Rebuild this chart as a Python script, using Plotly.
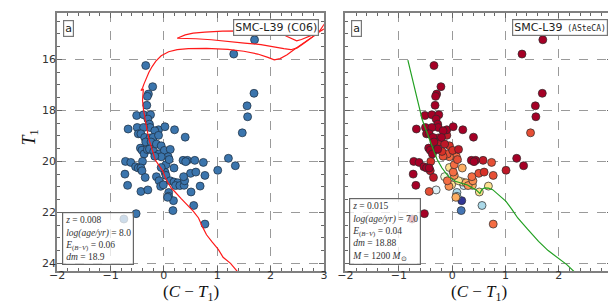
import plotly.graph_objects as go

# ---- observed stars (same CMD in both panels) ----
ct1 = [1.70, 1.31, -0.34, -0.21, -0.29, -0.31, -0.32, 1.69, 1.56, 1.57,
       1.47, -0.51, -0.38, -0.25, -0.30, -0.27, -0.26, -0.67, -0.50, -0.38,
       -0.48, -0.43, -0.10, -0.17, 0.02, 0.20, 0.40, -0.36, -0.26, -0.20,
       -0.10, -0.34, -0.24, -0.14, -0.05, -0.44, -0.41, -0.37, -0.31, -0.27,
       -0.19, -0.09, 0.01, 0.12, 0.08, -0.05, -0.17, -0.72, -0.62, -0.40,
       -0.53, -0.48, -0.43, -0.41, -0.73, -0.35, -0.68, -0.43, -0.30, -0.14,
       -0.09, 0.02, 0.04, 0.10, 0.19, -0.05, -0.06, -0.01, 0.04, 0.12,
       0.19, 0.26, 0.22, 0.30, 0.38, 0.36, 0.44, 0.41, 0.58, 0.74,
       0.50, 0.60, 0.39, 0.37, 0.77, 0.68, 0.51, 1.01, 1.21, 1.34,
       0.09, 0.09, 0.18, 0.07, 0.17, 0.56, 0.77, -0.52, -0.75]
t1 = [15.23, 15.79, 16.24, 17.07, 17.36, 17.45, 17.80, 17.33, 17.82, 18.25,
      18.88, 18.20, 18.17, 18.17, 18.34, 18.54, 18.67, 18.73, 18.67, 18.67,
      18.92, 18.92, 18.76, 18.80, 18.64, 18.76, 19.05, 19.06, 19.08, 19.06,
      18.98, 19.24, 19.24, 19.32, 19.39, 19.48, 19.56, 19.71, 19.54, 19.52,
      19.61, 19.71, 19.57, 19.53, 19.82, 19.82, 19.80, 20.00, 20.04, 20.00,
      20.21, 20.26, 20.26, 20.37, 20.50, 20.63, 20.94, 21.18, 21.12, 20.60,
      20.76, 20.42, 20.13, 19.93, 20.26, 20.24, 20.98, 20.92, 20.55, 20.76,
      20.81, 20.84, 20.95, 20.95, 20.94, 19.96, 19.96, 20.01, 19.96, 20.04,
      20.47, 20.42, 20.76, 20.60, 20.55, 20.97, 21.20, 20.35, 19.88, 20.17,
      21.22, 21.37, 21.54, 21.41, 21.93, 21.73, 22.46, 22.05, 22.26]
memb = [1, 1, 1, 1, 1, 1, 1, 1, 1, 1,
        0.85, 1, 1, 1, 1, 1, 1, 1, 1, 1,
        1, 1, 1, 1, 1, 1, 1, 1, 0.95, 1,
        0.95, 1, 0.95, 0.95, 0.9, 1, 1, 1, 0.95, 1,
        0.9, 0.85, 0.9, 0.95, 0.8, 0.8, 0.85, 1, 1, 0.9,
        1, 1, 1, 0.95, 1, 0.95, 1, 0.85, 0.4, 0.45,
        0.8, 0.8, 0.8, 0.85, 0.7, 0.6, 0.75, 0.6, 0.75, 0.6,
        0.55, 0.7, 0.35, 0.75, 0.7, 1, 1, 1, 0.95, 0.85,
        0.85, 0.9, 0.75, 0.8, 0.85, 0.6, 0.6, 0.95, 1, 1,
        0.3, 0.3, 0.0, 0.7, 0.1, 0.3, 0.8, 1, 1]

# ---- C06 isochrone (log age 8.0) ----
iso_c06_ct1 = [1.39, 1.25, 1.11, 1.02, 0.90, 0.80, 0.72, 0.65, 0.55, 0.43,
               0.32, 0.22, 0.14, 0.08, 0.03, -0.02, -0.09, -0.16, -0.21, -0.27,
               -0.31, -0.35, -0.38, -0.40, -0.39, -0.385, -0.43, -0.40, -0.37, -0.33,
               -0.28, -0.22, -0.15, -0.05, 0.09, 0.25, 0.46, 0.80, 1.20, 1.50,
               1.76, 1.95, 2.07, 2.18, 2.31, 2.45, 2.62, 2.78, 2.90, 3.06,
               None,
               2.90, 2.75, 2.62, 2.50, 2.38, 2.25, 2.13, 1.82, 1.51, 1.20,
               0.89, 0.60, 0.25, 0.40, 0.55, 0.77, 1.10, 1.51, 1.80, 2.07,
               2.22, 2.31, 2.42, 2.49, 2.58, 2.69, 2.80, 2.90, 3.05]
iso_c06_t1 = [24.35, 24.00, 23.76, 23.45, 23.15, 22.88, 22.55, 22.22, 21.95, 21.70,
              21.45, 21.22, 21.05, 20.85, 20.65, 20.38, 20.15, 19.95, 19.60, 19.20,
              18.82, 18.40, 18.00, 17.60, 17.30, 17.18, 17.22, 17.12, 16.95, 16.72,
              16.50, 16.28, 16.07, 15.86, 15.70, 15.62, 15.58, 15.57, 15.61, 15.68,
              15.79, 15.92, 16.02, 15.97, 15.82, 15.60, 15.36, 15.12, 14.95, 14.45,
              None,
              14.95, 15.20, 15.38, 15.55, 15.62, 15.58, 15.53, 15.42, 15.36, 15.29,
              15.23, 15.19, 15.17, 15.04, 14.97, 14.93, 14.89, 14.88, 14.89, 14.93,
              15.00, 15.10, 15.20, 15.27, 15.22, 15.14, 15.03, 14.93, 14.75]

# ---- ASteCA isochrone (log age 7.0) ----
iso_ast_ct1 = [-0.83, -0.79, -0.75, -0.70, -0.65, -0.60, -0.56, -0.51, -0.47, -0.42,
               -0.38, -0.33, -0.28, -0.19, -0.07, 0.06, 0.18, 0.28, 0.36, 0.45,
               0.52, 0.53, 0.56, 0.61, 0.68, 0.76, 0.85, 1.01, 1.12, 1.23,
               1.41, 1.62, 1.80, 1.99, 2.15, 2.30]
iso_ast_t1 = [16.03, 16.38, 16.73, 17.12, 17.52, 17.95, 18.37, 18.65, 18.89, 19.15,
              19.41, 19.67, 19.93, 20.26, 20.59, 20.78, 20.86, 20.92, 21.02, 21.12,
              21.26, 21.20, 21.09, 21.04, 21.05, 21.11, 21.28, 21.57, 21.88, 22.22,
              22.65, 23.14, 23.50, 23.79, 24.05, 24.35]

x_ticks = [-2, -1, 0, 1, 2, 3]
y_ticks = [16, 18, 20, 22, 24]

W, H = 616, 303
L1, R1 = 42, 314
L2, R2 = 336, 608
TOP, BOT = 5, 263
dom_y = [(H - BOT) / H, (H - TOP) / H]

fig = go.Figure()

# left panel
fig.add_trace(go.Scatter(x=ct1, y=t1, mode='markers', xaxis='x', yaxis='y',
                         marker=dict(size=8, color='#3b75ad',
                                     line=dict(color='#1b2b3c', width=0.7)),
                         showlegend=False, hoverinfo='skip'))
fig.add_trace(go.Scatter(x=iso_c06_ct1, y=iso_c06_t1, mode='lines', xaxis='x', yaxis='y',
                         line=dict(color='#ff1a1a', width=1.2), connectgaps=False,
                         showlegend=False, hoverinfo='skip'))

# right panel
order = sorted(range(len(memb)), key=lambda i: memb[i])
fig.add_trace(go.Scatter(x=[ct1[i] for i in order], y=[t1[i] for i in order],
                         mode='markers', xaxis='x2', yaxis='y2',
                         marker=dict(size=8, color=[memb[i] for i in order],
                                     colorscale='RdYlBu', reversescale=True,
                                     cmin=0, cmax=1,
                                     line=dict(color='#2a2a2a', width=0.7)),
                         showlegend=False, hoverinfo='skip'))
fig.add_trace(go.Scatter(x=iso_ast_ct1, y=iso_ast_t1, mode='lines', xaxis='x2', yaxis='y2',
                         line=dict(color='#22a022', width=1.2),
                         showlegend=False, hoverinfo='skip'))

tickfont = dict(family='DejaVu Sans', size=11, color='#333333')
common_x = dict(range=[-2, 3], tickvals=x_ticks, ticks='inside', ticklen=5,
                tickcolor='#666666', showline=True, linecolor='#808080', linewidth=2,
                mirror='allticks', showgrid=True, gridcolor='#9a9a9a', griddash='dash',
                gridwidth=1, zeroline=False, tickfont=tickfont, ticklabelstandoff=-7,
                minor=dict(dtick=0.2, ticks='inside', ticklen=3, tickcolor='#666666',
                           showgrid=False))
common_y = dict(range=[24.3, 14.18], tickvals=y_ticks, ticks='inside', ticklen=5,
                tickcolor='#666666', showline=True, linecolor='#808080', linewidth=2,
                mirror='allticks', showgrid=True, gridcolor='#9a9a9a', griddash='dash',
                gridwidth=1, zeroline=False, tickfont=tickfont,
                minor=dict(dtick=0.5, ticks='inside', ticklen=3, tickcolor='#666666',
                           showgrid=False))

fig.update_layout(
    width=W, height=H, margin=dict(l=0, r=0, t=0, b=0),
    paper_bgcolor='white', plot_bgcolor='white',
    xaxis=dict(domain=[L1 / W, R1 / W], anchor='y', **common_x),
    yaxis=dict(domain=dom_y, anchor='x', ticklabelstandoff=-3, **common_y),
    xaxis2=dict(domain=[L2 / W, R2 / W], anchor='y2', **common_x),
    yaxis2=dict(domain=dom_y, anchor='x2', showticklabels=False, **common_y),
)

serif = 'Liberation Serif'
ann = []
for xr, yr in (('x domain', 'y domain'), ('x2 domain', 'y2 domain')):
    ann.append(dict(xref=xr, yref=yr, x=0.022, y=0.972, xanchor='left', yanchor='top',
                    text='a', showarrow=False,
                    font=dict(family='DejaVu Sans', size=11, color='#222'),
                    bgcolor='white', bordercolor='#777', borderwidth=1.2, borderpad=1))

ann.append(dict(xref='x domain', yref='y domain', x=0.982, y=0.976, xanchor='right', yanchor='top',
                text='SMC-L39 (C06)', showarrow=False,
                font=dict(family='DejaVu Sans', size=11, color='#222'),
                bgcolor='white', bordercolor='#777', borderwidth=1.2, borderpad=1))
ann.append(dict(xref='x2 domain', yref='y2 domain', x=0.985, y=0.976, xanchor='right', yanchor='top',
                text="SMC-L39<span style='font-family:DejaVu Sans Mono;font-size:8px'> (ASteCA)</span>",
                showarrow=False,
                font=dict(family='DejaVu Sans', size=11, color='#222'),
                bgcolor='white', bordercolor='#777', borderwidth=1.2, borderpad=1))

box1 = ('<i>z</i> = 0.008<br><i>log(age/yr)</i> = 8.0<br>'
        '<i>E</i><sub>(<i>B</i>−<i>V</i>)</sub> = 0.06<br><i>dm</i> = 18.9')
box2 = ('<i>z</i> = 0.015<br><i>log(age/yr)</i> = 7.0<br>'
        '<i>E</i><sub>(<i>B</i>−<i>V</i>)</sub> = 0.04<br><i>dm</i> = 18.88<br>'
        '<i>M</i> = 1200 <i>M</i><sub>⊙</sub>')
ann.append(dict(xref='x domain', yref='y domain', x=0.018, y=0.022, xanchor='left', yanchor='bottom',
                text=box1, showarrow=False, align='left',
                font=dict(family=serif, size=9.5, color='#333'),
                bgcolor='rgba(255,255,255,0.75)', bordercolor='#666', borderwidth=1.2, borderpad=2))
ann.append(dict(xref='x2 domain', yref='y2 domain', x=0.014, y=0.022, xanchor='left', yanchor='bottom',
                text=box2, showarrow=False, align='left',
                font=dict(family=serif, size=9.5, color='#333'),
                bgcolor='rgba(255,255,255,0.75)', bordercolor='#666', borderwidth=1.2, borderpad=2))

# axis titles
ann.append(dict(xref='paper', yref='paper', x=0.0, y=(H - 130) / H, xanchor='left', yanchor='middle',
                text='<i>T</i><sub>1</sub>', textangle=-90, showarrow=False,
                font=dict(family=serif, size=18, color='#111')))
for cx in ((L1 + R1) / 2, (L2 + R2) / 2):
    ann.append(dict(xref='paper', yref='paper', x=cx / W, y=(H - 285) / H, xanchor='center', yanchor='middle',
                    text='(<i>C</i> − <i>T</i><sub>1</sub>)', showarrow=False,
                    font=dict(family=serif, size=17, color='#111')))

fig.update_layout(annotations=ann)
fig.write_html('out.html')
